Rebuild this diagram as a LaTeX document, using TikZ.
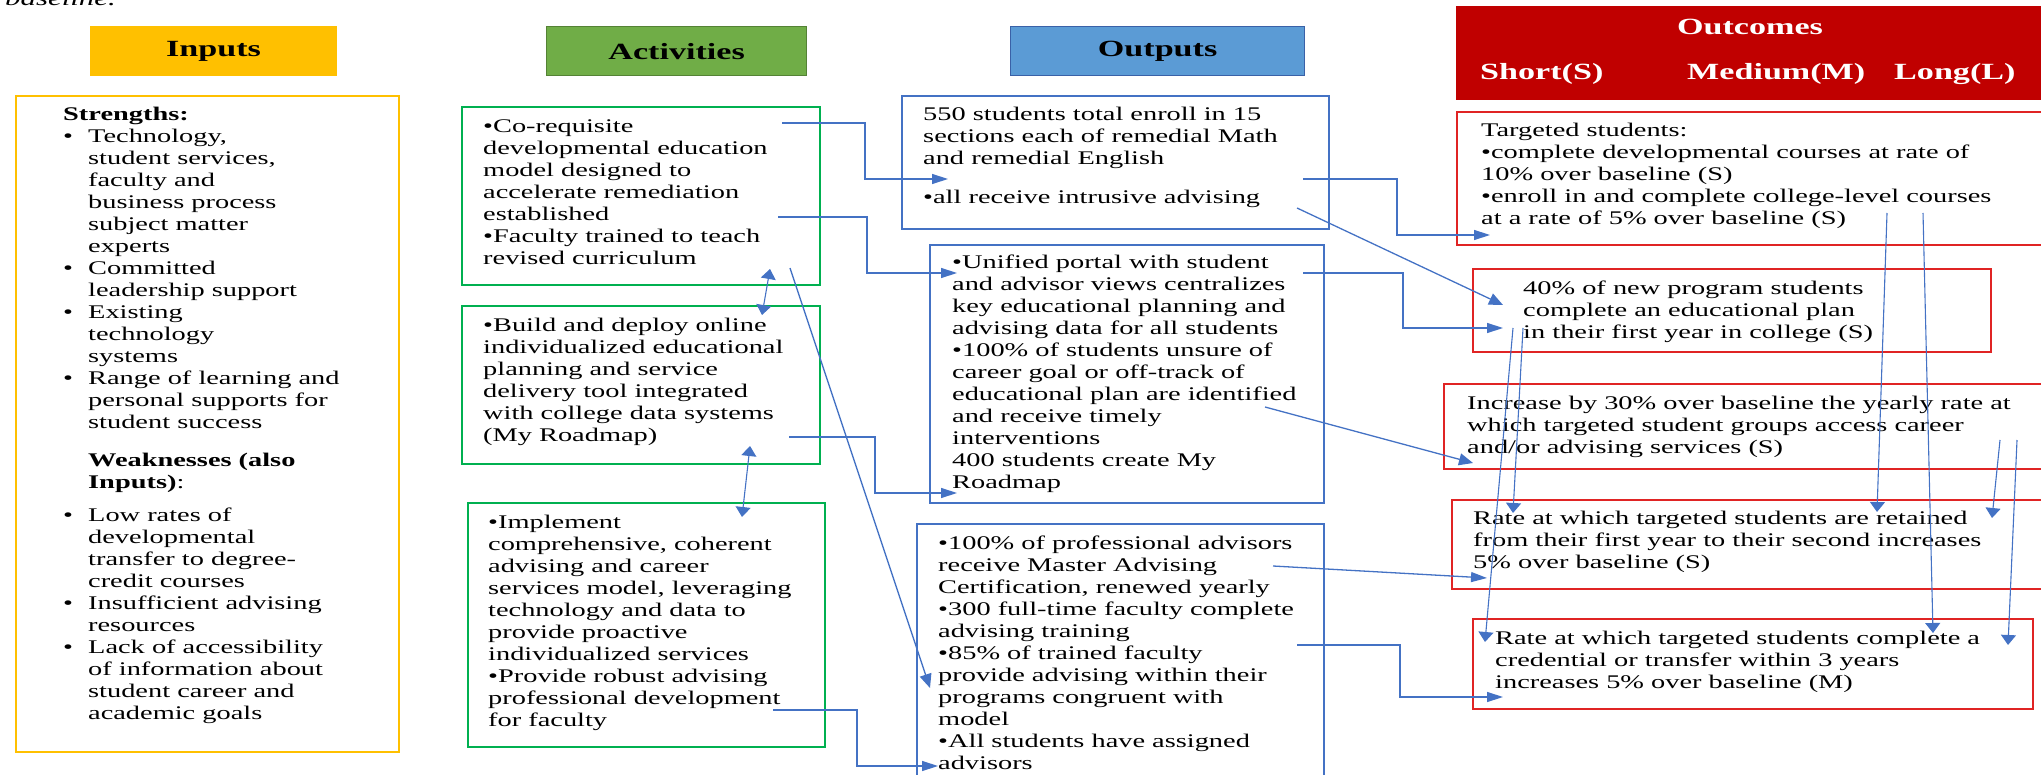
\documentclass[tikz,border=0pt]{standalone}
\usepackage{fontspec}
\setmainfont{Liberation Serif}[FakeStretch=1.47]
\usetikzlibrary{arrows.meta}
\definecolor{ingold}{HTML}{FFC000}
\definecolor{actgreen}{HTML}{70AD47}
\definecolor{actedge}{HTML}{00B050}
\definecolor{outblue}{HTML}{5B9BD5}
\definecolor{outedge}{HTML}{4472C4}
\definecolor{ocred}{HTML}{C00000}
\definecolor{ocedge}{HTML}{E02424}
\definecolor{linkblue}{HTML}{4472C4}
\newcommand\txtfont{\fontsize{19.3}{22}\selectfont}
\newcommand\hdfont{\fontsize{23.2}{26}\selectfont\bfseries}
\newcommand\inbul{\makebox[25pt][l]{\textbullet}}
\newcommand\inskip{\hspace*{25pt}}
\begin{document}
\begin{tikzpicture}[x=1pt,y=-1pt]
	\tikzstyle{every node}+=[inner sep=0pt, font=\txtfont]
	\tikzstyle{head}=[anchor=north west, font=\hdfont, line width=1.2pt]
	\tikzstyle{frame}=[anchor=north west, draw, line width=1.6pt]
	\tikzstyle{txt}=[anchor=north west, align=left]
	\tikzstyle{hlink}=[draw=linkblue, line width=1.3pt, -{Triangle[length=16pt,width=10pt]}]
	\tikzstyle{dlink}=[draw=linkblue, line width=1.3pt, -{Triangle[length=14pt,width=12pt]}]
	\tikzstyle{vlink}=[draw=linkblue, line width=1.1pt, -{Triangle[length=10pt,width=15pt]}]
	\useasboundingbox (0,0) rectangle (2041,775);
	\clip (0,0) rectangle (2041,775);
	\node [anchor=base west, font=\fontsize{21}{24}\selectfont\itshape] (topnote) at (5,6) {baseline.};
	\node [head, fill=ingold, draw=ingold, minimum width=246pt, minimum height=49pt] (inhead) at (90,26) {Inputs};
	\node [head, fill=actgreen, draw=actgreen!75!black, minimum width=260pt, minimum height=49pt] (acthead) at (546,26) {Activities};
	\node [head, fill=outblue, draw=outedge!85!black, minimum width=294pt, minimum height=49pt] (outhead) at (1010,26) {Outputs};
	\node [head, fill=ocred, draw=ocred, minimum width=620pt, minimum height=93pt] (ochead) at (1456,6) {};
	\node [anchor=base, font=\hdfont, text=white] (octitle) at (1750,35) {Outcomes};
	\node [anchor=base west, font=\hdfont, text=white] (ocshort) at (1480,80) {Short(S)};
	\node [anchor=base west, font=\hdfont, text=white] (ocmed) at (1687,80) {Medium(M)};
	\node [anchor=base west, font=\hdfont, text=white] (oclong) at (1894,80) {Long(L)};
	\node [frame, draw=ingold, minimum width=383pt, minimum height=656pt] (inbox) at (15,95) {};
	\node [frame, draw=actedge, minimum width=358pt, minimum height=178pt] (act1) at (461,106) {};
	\node [frame, draw=actedge, minimum width=358pt, minimum height=158pt] (act2) at (461,305) {};
	\node [frame, draw=actedge, minimum width=357pt, minimum height=244pt] (act3) at (467,502) {};
	\node [frame, draw=outedge, minimum width=427pt, minimum height=133pt] (out1) at (901,95) {};
	\node [frame, draw=outedge, minimum width=394pt, minimum height=258pt] (out2) at (929,244) {};
	\node [frame, draw=outedge, minimum width=407pt, minimum height=290pt] (out3) at (916,523) {};
	\node [frame, draw=ocedge, minimum width=620pt, minimum height=133pt] (oc1) at (1456,111) {};
	\node [frame, draw=ocedge, minimum width=518pt, minimum height=83pt] (oc2) at (1472,268) {};
	\node [frame, draw=ocedge, minimum width=640pt, minimum height=85pt] (oc3) at (1443,383) {};
	\node [frame, draw=ocedge, minimum width=630pt, minimum height=89pt] (oc4) at (1451,499) {};
	\node [frame, draw=ocedge, minimum width=560pt, minimum height=90pt] (oc5) at (1472,618) {};
	\node [txt] (intxt) at (63,104.6) {\strut\textbf{Strengths:}\\
		\inbul Technology,\\
		\inskip student services,\\
		\inskip faculty and\\
		\inskip business process\\
		\inskip subject matter\\
		\inskip experts\\
		\inbul Committed\\
		\inskip leadership support\\
		\inbul Existing\\
		\inskip technology\\
		\inskip systems\\
		\inbul Range of learning and\\
		\inskip personal supports for\\
		\inskip student success\\[16pt]
		\inskip\textbf{Weaknesses (also}\\
		\inskip\textbf{Inputs)}:\\[11pt]
		\inbul Low rates of\\
		\inskip developmental\\
		\inskip transfer to degree-\\
		\inskip credit courses\\
		\inbul Insufficient advising\\
		\inskip resources\\
		\inbul Lack of accessibility\\
		\inskip of information about\\
		\inskip student career and\\
		\inskip academic goals};
	\node [txt] (act1txt) at (483,116.6) {\strut\textbullet Co-requisite\\
		developmental education\\
		model designed to\\
		accelerate remediation\\
		established\\
		\textbullet Faculty trained to teach\\
		revised curriculum};
	\node [txt] (act2txt) at (483,315.6) {\strut\textbullet Build and deploy online\\
		individualized educational\\
		planning and service\\
		delivery tool integrated\\
		with college data systems\\
		(My Roadmap)};
	\node [txt] (act3txt) at (488,512.6) {\strut\textbullet Implement\\
		comprehensive, coherent\\
		advising and career\\
		services model, leveraging\\
		technology and data to\\
		provide proactive\\
		individualized services\\
		\textbullet Provide robust advising\\
		professional development\\
		for faculty};
	\node [txt] (out1txt) at (923,104.6) {\strut 550 students total enroll in 15\\
		sections each of remedial Math\\
		and remedial English\\[17pt]
		\textbullet all receive intrusive advising};
	\node [txt] (out2txt) at (952,252.6) {\strut\textbullet Unified portal with student\\
		and advisor views centralizes\\
		key educational planning and\\
		advising data for all students\\
		\textbullet 100\% of students unsure of\\
		career goal or off-track of\\
		educational plan are identified\\
		and receive timely\\
		interventions\\
		400 students create My\\
		Roadmap};
	\node [txt] (out3txt) at (938,533.6) {\strut\textbullet 100\% of professional advisors\\
		receive Master Advising\\
		Certification, renewed yearly\\
		\textbullet 300 full-time faculty complete\\
		advising training\\
		\textbullet 85\% of trained faculty\\
		provide advising within their\\
		programs congruent with\\
		model\\
		\textbullet All students have assigned\\
		advisors};
	\node [txt] (oc1txt) at (1481,120.6) {\strut Targeted students:\\
		\textbullet complete developmental courses at rate of\\
		10\% over baseline (S)\\
		\textbullet enroll in and complete college-level courses\\
		at a rate of 5\% over baseline (S)};
	\node [txt] (oc2txt) at (1523,278.6) {\strut 40\% of new program students\\
		complete an educational plan\\
		in their first year in college (S)};
	\node [txt] (oc3txt) at (1467,393.6) {\strut Increase by 30\% over baseline the yearly rate at\\
		which targeted student groups access career\\
		and/or advising services (S)};
	\node [txt] (oc4txt) at (1473,508.6) {\strut Rate at which targeted students are retained\\
		from their first year to their second increases\\
		5\% over baseline (S)};
	\node [txt] (oc5txt) at (1495,628.6) {\strut Rate at which targeted students complete a\\
		credential or transfer within 3 years\\
		increases 5\% over baseline (M)};
	\coordinate (a1p) at (782,123);
	\coordinate (a1q) at (778,217);
	\coordinate (a1d) at (790,268);
	\coordinate (a1b) at (770,269);
	\coordinate (a2t) at (762,315);
	\coordinate (a2p) at (789,437);
	\coordinate (a2b) at (750,446);
	\coordinate (a3t) at (742,517);
	\coordinate (a3p) at (773,710);
	\coordinate (o1p) at (948,179);
	\coordinate (o1s) at (1303,179);
	\coordinate (o1d) at (1297,208);
	\coordinate (o2p) at (957,273);
	\coordinate (o2s) at (1303,273);
	\coordinate (o2q) at (957,493);
	\coordinate (o2d) at (1265,407);
	\coordinate (o3p) at (938,766);
	\coordinate (o3d) at (930,688);
	\coordinate (o3s) at (1273,566);
	\coordinate (o3e) at (1297,645);
	\coordinate (oc1p) at (1490,235);
	\coordinate (oc1a) at (1887,213);
	\coordinate (oc1b) at (1923,213);
	\coordinate (oc2d) at (1503,305);
	\coordinate (oc2p) at (1503,328);
	\coordinate (oc2a) at (1513,328);
	\coordinate (oc2b) at (1523,328);
	\coordinate (oc3p) at (1473,463);
	\coordinate (oc3a) at (2000,440);
	\coordinate (oc3b) at (2017,440);
	\coordinate (oc4p) at (1487,578);
	\coordinate (oc4a) at (1513,513);
	\coordinate (oc4b) at (1877,512);
	\coordinate (oc4c) at (1992,518);
	\coordinate (oc5p) at (1503,697);
	\coordinate (oc5a) at (1485,642);
	\coordinate (oc5b) at (1933,633);
	\coordinate (oc5c) at (2008,645);
	\draw [hlink] (a1p) -- ++(83,0) |- (o1p);
	\draw [hlink] (a1q) -- ++(89,0) |- (o2p);
	\draw [hlink] (a2p) -- ++(86,0) |- (o2q);
	\draw [hlink] (a3p) -- ++(84,0) |- (o3p);
	\draw [dlink] (a1d) -- (o3d);
	\draw [vlink, {Triangle[length=10pt,width=15pt]}-{Triangle[length=10pt,width=15pt]}] (a2t) -- (a1b);
	\draw [vlink, {Triangle[length=10pt,width=15pt]}-{Triangle[length=10pt,width=15pt]}] (a3t) -- (a2b);
	\draw [hlink] (o1s) -- ++(94,0) |- (oc1p);
	\draw [dlink] (o1d) -- (oc2d);
	\draw [hlink] (o2s) -- ++(100,0) |- (oc2p);
	\draw [dlink] (o2d) -- (oc3p);
	\draw [hlink] (o3s) -- (oc4p);
	\draw [hlink] (o3e) -- ++(103,0) |- (oc5p);
	\draw [vlink] (oc2a) -- (oc5a);
	\draw [vlink] (oc2b) -- (oc4a);
	\draw [vlink] (oc1a) -- (oc4b);
	\draw [vlink] (oc1b) -- (oc5b);
	\draw [vlink] (oc3a) -- (oc4c);
	\draw [vlink] (oc3b) -- (oc5c);
\end{tikzpicture}
\end{document}
